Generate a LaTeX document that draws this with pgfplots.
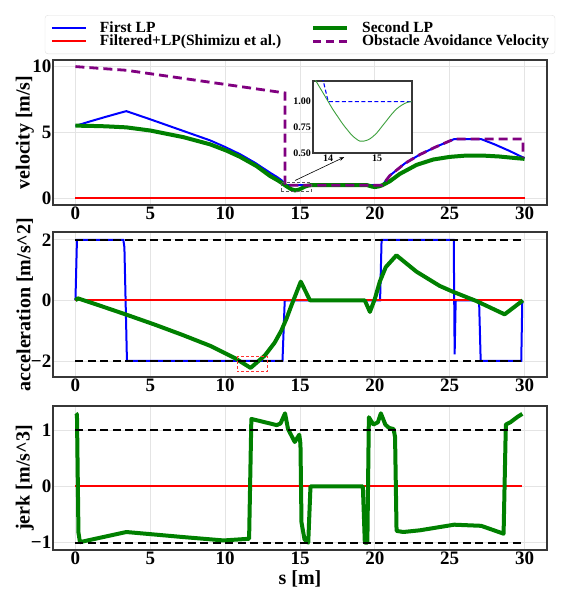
\documentclass[border=0pt]{standalone}
\usepackage{fontspec}
\setmainfont{Liberation Serif}
\usepackage{pgfplots}
\pgfplotsset{compat=1.18}
\usetikzlibrary{arrows.meta}
\definecolor{myblue}{RGB}{0,0,255}
\definecolor{mygreen}{RGB}{0,128,0}
\definecolor{inGreen}{RGB}{60,160,60}
\definecolor{myred}{RGB}{255,0,0}
\definecolor{mypurple}{RGB}{128,0,128}
\definecolor{framegray}{RGB}{55,55,55}
\definecolor{gridgray}{RGB}{228,228,228}
\newcommand{\tl}[1]{\textbf{#1}}
\pgfplotsset{
 base/.style={
  scale only axis, width=494pt, height=145pt,
  xmin=-1.5, xmax=31.5,
  axis line style={framegray, line width=1.2pt},
  grid=major, major grid style={gridgray, line width=0.8pt},
  tick style={draw=none},
  xtick={0,5,10,15,20,25,30},
  xticklabels={\tl{0},\tl{5},\tl{10},\tl{15},\tl{20},\tl{25},\tl{30}},
  tick label style={font=\fontsize{19}{19}\selectfont\bfseries},
  yticklabel style={inner xsep=1.5pt},
  xticklabel style={inner ysep=2pt},
  label style={font=\fontsize{20}{20}\selectfont\bfseries},
  ylabel style={at={(axis description cs:-0.057,0.5)}, anchor=center},
 },
 blueln/.style={myblue, line width=2pt},
 greenln/.style={mygreen, line width=4pt, line join=round},
 redln/.style={myred, line width=2pt},
 purpln/.style={mypurple, line width=2.8pt, dash pattern=on 9pt off 5pt},
 blackln/.style={black, line width=2.2pt, dash pattern=on 8pt off 4.5pt},
}
\begin{document}
\begin{tikzpicture}
\useasboundingbox (0,0) rectangle (561pt,-589pt);
% ---------------- velocity
\begin{axis}[base, at={(53pt,-60pt)}, anchor=north west,
  ymin=-0.5, ymax=10.5, ytick={0,5,10}, yticklabels={\tl{0},\tl{5},\tl{10}},
  ylabel={velocity [m/s]},
  legend columns=2,
  legend style={at={(0.5,1)}, anchor=south, yshift=6pt, draw=gray!25, rounded corners=3pt,
    font=\fontsize{15.5}{15.5}\selectfont\bfseries, inner xsep=6pt, inner ysep=6pt,
    nodes={inner xsep=0pt, inner ysep=0.5pt},
    /tikz/every row/.append style={row sep=1pt},
    /tikz/every odd column/.append style={column sep=13pt},
    /tikz/every even column/.append style={column sep=30pt}},
  legend cell align=left,
]
\addlegendimage{legend image code/.code={\draw[myblue, line width=2pt] (0pt,0pt) -- (34pt,0pt);}}
\addlegendentry{First LP}
\addlegendimage{legend image code/.code={\draw[mygreen, line width=4pt] (0pt,0pt) -- (34pt,0pt);}}
\addlegendentry{Second LP}
\addlegendimage{legend image code/.code={\draw[myred, line width=2pt] (0pt,0pt) -- (34pt,0pt);}}
\addlegendentry{Filtered+LP(Shimizu et al.)}
\addlegendimage{legend image code/.code={\draw[mypurple, line width=2.8pt, dash pattern=on 8pt off 5pt] (0pt,0pt) -- (34pt,0pt);}}
\addlegendentry{Obstacle Avoidance Velocity}
\addplot[blueln, forget plot] coordinates {(0,5.5) (1,5.85) (2,6.18) (3,6.5) (3.4,6.62) (5,6.0) (7,5.2) (9,4.4) (10,3.9) (11,3.35) (12,2.7) (13,1.95) (13.5,1.6) (13.8,1.35) (13.9,1.2) (14.0,1.0) (20.5,1.0) (21,1.73) (22,2.65) (23,3.32) (24,3.87) (25,4.36) (25.3,4.5) (27.1,4.5) (28,4.1) (29,3.6) (30,3.05)};
\addplot[redln, forget plot] coordinates {(0,0) (30,0)};
\addplot[greenln, forget plot] coordinates {(0,5.52) (1,5.5) (2,5.47) (3.4,5.39) (5,5.15) (7.2,4.65) (9,4.1) (10.1,3.62) (11,3.15) (12.1,2.45) (13,1.7) (13.5,1.38) (13.75,1.2) (14.0,1.0) (14.2,0.85) (14.4,0.71) (14.65,0.61) (14.9,0.65) (15.1,0.76) (15.3,0.88) (15.5,0.96) (15.7,1.0) (19.5,1.0) (19.8,0.9) (20.0,0.86) (20.3,0.92) (20.5,1.0) (21,1.3) (21.67,1.86) (22.8,2.55) (23.9,2.95) (25,3.15) (26.1,3.25) (27.2,3.25) (28.3,3.18) (29.4,3.06) (30,3.0)};
\addplot[purpln, forget plot] coordinates {(0,10) (3.4,9.72) (14.0,8.0) (14.0,1.0) (20.5,1.0) (21,1.73) (22,2.65) (23,3.32) (24,3.87) (25,4.36) (25.3,4.5) (29.9,4.5) (29.9,3.1)};
\draw[gray!70!black, densely dashed, line width=0.6pt] (axis cs:13.73,0.53) rectangle (axis cs:15.73,1.21);
\draw[-{Stealth[length=5pt]}, black, line width=0.6pt] (axis cs:14.67,1.36) -- (axis cs:17.95,3.13);
\end{axis}
% ---------------- inset
\begin{axis}[at={(313pt,-153pt)}, anchor=south west, scale only axis, width=99pt, height=72pt,
  xmin=13.69, xmax=15.71, ymin=0.5, ymax=1.2, xtick={14,15}, xticklabels={\tl{14},\tl{15}},
  ytick={0.5,0.75,1.0}, yticklabels={\tl{0.50},\tl{0.75},\tl{1.00}},
  tick label style={font=\fontsize{10}{10}\selectfont\bfseries},
  yticklabel style={inner xsep=2pt}, xticklabel style={inner ysep=2pt},
  axis line style={framegray, line width=1.2pt}, tick style={draw=none},
  axis background/.style={fill=white}]
\addplot[myblue, line width=1.1pt, dash pattern=on 4pt off 2.5pt] coordinates {(13.85,1.3) (14.0,1.0) (15.71,1.0)};
\addplot[inGreen, line width=0.9pt, smooth] coordinates {(13.7,1.24) (13.75,1.2) (13.85,1.12) (14.0,1.0) (14.1,0.92) (14.2,0.85) (14.3,0.78) (14.4,0.72) (14.5,0.665) (14.65,0.615) (14.8,0.625) (14.9,0.655) (15.0,0.7) (15.1,0.76) (15.2,0.82) (15.3,0.88) (15.4,0.93) (15.5,0.965) (15.6,0.99) (15.7,1.0)};
\end{axis}
% ---------------- acceleration
\begin{axis}[base, at={(53pt,-232pt)}, anchor=north west,
  ymin=-2.53, ymax=2.26, ytick={-2,0,2}, yticklabels={\tl{−2},\tl{0},\tl{2}},
  ylabel={acceleration [m/s\textasciicircum 2]}]
\addplot[blueln] coordinates {(0,0) (0.1,2) (3.2,2) (3.27,1.75) (3.44,-2) (13.83,-2) (13.98,0) (20.35,0) (20.45,2) (25.27,2) (25.33,-1.78) (25.4,0) (26.9,0) (26.97,-0.15) (27.07,-2) (29.78,-2) (29.85,0)};
\addplot[redln] coordinates {(0,0) (29.85,0)};
\addplot[greenln] coordinates {(0,0) (0.15,0.07) (1.5,-0.15) (3.4,-0.47) (5.3,-0.8) (7.15,-1.14) (9,-1.5) (10.7,-1.92) (11.7,-2.23) (12.65,-1.82) (13.3,-1.4) (13.75,-1.0) (14.1,-0.6) (14.4,-0.2) (15.05,0.62) (15.67,0) (19.33,0) (19.67,-0.38) (20.0,0.05) (20.33,0.62) (20.73,1.1) (21.44,1.49) (22.78,0.95) (24.33,0.48) (25.2,0.29) (26.78,-0.02) (28.67,-0.46) (29.89,0)};
\addplot[blackln] coordinates {(0,2) (30,2)};
\addplot[blackln] coordinates {(0,-2) (30,-2)};
\draw[myred!80, densely dashed, line width=0.6pt] (axis cs:10.78,-1.84) rectangle (axis cs:12.82,-2.35);
\end{axis}
% ---------------- jerk
\begin{axis}[base, at={(53pt,-406pt)}, anchor=north west, height=144pt,
  ymin=-1.13, ymax=1.43, ytick={-1,0,1}, yticklabels={\tl{−1},\tl{0},\tl{1}},
  ylabel={jerk [m/s\textasciicircum 3]}, xlabel={s [m]}]
\addplot[redln] coordinates {(0,0) (29.85,0)};
\addplot[greenln] coordinates {(0.03,1.3) (0.1,1.28) (0.2,-0.82) (0.3,-0.99) (3.4,-0.81) (7.2,-0.9) (9.9,-0.96) (11.6,-0.93) (11.75,1.2) (13.45,1.09) (13.7,1.12) (14.0,1.3) (14.2,1.02) (14.65,0.79) (14.95,0.92) (15.03,0.76) (15.1,-0.64) (15.3,-0.94) (15.55,-1.0) (15.7,0) (19.2,0) (19.33,-1.0) (19.5,-1.0) (19.6,1.23) (19.9,1.1) (20.2,1.14) (20.4,1.3) (20.7,1.1) (20.95,1.04) (21.25,1.02) (21.35,0.88) (21.45,-0.79) (21.9,-0.81) (23,-0.78) (25.3,-0.68) (27.1,-0.7) (28.6,-0.84) (28.75,1.1) (29.05,1.14) (29.55,1.24) (29.85,1.29)};
\addplot[blackln] coordinates {(0,1) (30,1)};
\addplot[blackln] coordinates {(0,-1) (30,-1)};
\end{axis}
\end{tikzpicture}
\end{document}
